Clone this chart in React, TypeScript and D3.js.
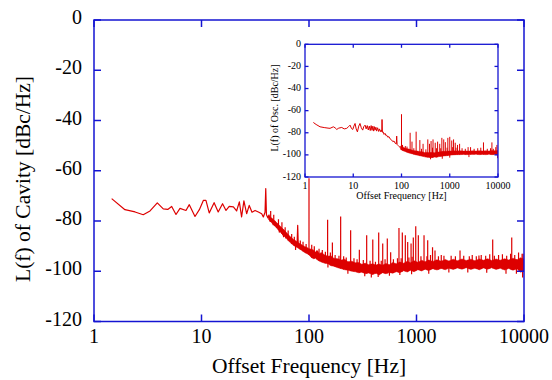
import React from "react";
import * as d3 from "d3";

const xTicks = [1, 10, 100, 1000, 10000];
const yTicks = [0, -20, -40, -60, -80, -100, -120];

// ---- main chart (Cavity) ----
const mainLowF = [1.46, 1.94, 2.41, 2.87, 3.32, 3.88, 4.41, 4.85, 5.28, 5.79, 6.31, 7.17, 7.7, 8.7, 9.55, 10.4, 11.0, 11.8, 13.1, 14.3, 15.7, 16.9, 18.1, 19.8, 21.2, 22.5, 23.6, 24.8, 26.3, 27.8, 29.5, 31.5, 33.8, 36.3, 37.6, 39.0, 39.6, 40.2, 41.5, 42.5, 43.5, 45.0, 46.5, 48.0, 50.0, 51.5, 53.0, 55.0, 57.0, 59.0, 61.0, 63.0, 65.5, 68.0, 70.5, 73.0, 75.5, 77.5, 78.5, 79.5, 82.0, 84.5, 87.0, 90.0, 93.0, 96.0];
const mainLowV = [-71.1, -75.5, -76.4, -77.5, -76.0, -72.8, -75.2, -75.4, -74.2, -77.4, -75.0, -75.8, -73.5, -78.2, -75.5, -71.8, -71.8, -76.8, -72.7, -76.4, -73.1, -75.8, -74.2, -74.4, -76.0, -72.4, -78.4, -72.0, -77.1, -73.8, -76.5, -75.8, -76.4, -77.1, -78.4, -76.5, -67.1, -77.5, -78.8, -77.6, -80.2, -79.0, -81.5, -80.3, -82.5, -81.2, -84.4, -82.8, -85.5, -84.2, -86.8, -85.6, -87.8, -86.8, -88.8, -87.9, -89.6, -88.9, -81.7, -89.8, -90.6, -89.7, -91.4, -90.8, -92.2, -91.5];
const mainFloorF = [42, 46, 50, 55, 60, 66, 72, 78, 85, 90, 96, 100, 105, 110, 115, 120, 125, 130, 140, 150, 160, 170, 185, 200, 215, 230, 250, 270, 290, 310, 335, 360, 390, 420, 450, 480, 520, 560, 600, 650, 700, 760, 820, 880, 950, 1030, 1120, 1200, 1300, 1420, 1550, 1700, 1850, 2000, 2200, 2400, 2650, 2900, 3200, 3500, 3850, 4200, 4600, 5000, 5500, 6000, 6600, 7200, 7900, 8600, 9300, 10000];
const mainFloorHi = [-77.8, -79.2, -80.6, -82.4, -84.0, -86.0, -87.4, -88.4, -89.4, -90.0, -90.5, -91.0, -91.2, -91.5, -92.3, -91.8, -93.0, -92.5, -93.5, -94.0, -93.8, -94.8, -95.0, -95.5, -95.2, -96.2, -96.0, -96.6, -96.5, -97.2, -96.8, -97.4, -97.0, -97.5, -97.1, -97.6, -96.9, -97.4, -96.5, -97.0, -96.3, -96.8, -96.0, -96.6, -95.8, -96.4, -95.6, -96.2, -95.5, -96.1, -95.4, -96.0, -95.3, -95.9, -95.2, -95.8, -95.1, -95.7, -95.2, -95.8, -95.1, -95.6, -95.0, -95.7, -95.1, -95.6, -95.0, -95.5, -94.8, -95.4, -94.6, -95.2];
const mainFloorLo = [-79.4, -81.2, -82.8, -84.8, -86.4, -88.4, -89.8, -90.6, -91.6, -92.4, -93.0, -93.5, -94.5, -95.0, -94.8, -95.5, -96.0, -96.3, -96.8, -97.0, -97.8, -98.0, -98.6, -99.0, -99.4, -99.6, -100.0, -100.2, -100.6, -100.4, -101.0, -100.7, -101.3, -100.8, -101.5, -100.6, -101.0, -100.5, -100.8, -100.2, -100.6, -99.8, -100.3, -99.6, -100.2, -99.4, -99.9, -99.2, -99.7, -99.0, -99.5, -98.9, -99.4, -98.8, -99.3, -98.7, -99.2, -98.6, -99.3, -98.8, -99.4, -98.7, -99.2, -98.6, -99.3, -98.8, -99.5, -98.9, -99.6, -99.0, -100.4, -99.8];
const mainSpikeF = [100, 118, 149, 165, 197, 244, 294, 344, 392, 445, 485, 535, 575, 687, 738, 787, 828, 890, 934, 984, 1040, 1175, 1271, 1410, 1486, 1700, 2540, 3100, 3810, 5115, 7690, 9600];
const mainSpikeV = [-63, -91.7, -79.5, -88.6, -78.2, -83.7, -91.4, -85.7, -87.4, -84.6, -89, -87, -92.4, -82.8, -84.6, -85.7, -88.4, -89, -86.6, -82.1, -85.7, -85.7, -87.7, -90.4, -91.7, -93.5, -91.7, -94, -93.7, -87.4, -86.6, -93];
const mainGrassF = [44, 47, 52, 56, 60, 64, 69, 73, 83, 88, 94, 106, 112, 124, 133, 142, 158, 175, 190, 210, 222, 262, 280, 320, 370, 415, 470, 510, 610, 665, 720, 850, 910, 1100, 1250, 1350, 1600, 1800, 2100, 2300, 2750, 3300, 3600, 4000, 4400, 4800, 5300, 5800, 6300, 6900, 7500, 8200, 8900, 9800];
const mainGrassV = [-76, -77.5, -79.3, -80.5, -82.5, -83.8, -85.2, -86.3, -87.8, -88.3, -89.2, -89.5, -90, -91, -91.5, -92.2, -92.5, -93.5, -93.8, -94, -94.5, -94.8, -95.2, -95.5, -95.8, -96.2, -95.8, -95.2, -95.2, -94.8, -94.8, -94.5, -94.2, -94, -94, -93.5, -94, -93.8, -93.8, -94, -93.8, -93.5, -94, -93.5, -93.8, -93.2, -93.8, -93.5, -93.2, -93.8, -93, -93.5, -92.5, -93];
const mainDipF = [48, 58, 75, 150, 230, 330, 380, 440, 560, 700, 900, 1300, 2000, 3000, 4500, 6800, 8500, 9700];
const mainDipV = [-82, -86.5, -91.5, -98.5, -101, -102, -102.5, -102.3, -101.8, -101.5, -101.2, -101, -100.5, -100.5, -100.6, -101, -101, -102.5];

// ---- inset chart (Osc.) ----
const insetLowF = [1.49, 1.7, 2.05, 2.5, 3.0, 3.3, 3.87, 4.2, 4.55, 5.0, 5.77, 6.5, 7.33, 8.0, 8.59, 9.2, 9.77, 10.3, 10.9, 11.5, 12.2, 13.0, 13.8, 14.7, 15.7, 16.5, 17.6, 18.5, 19.5, 20.5, 21.5, 22.5, 23.5, 24.5, 25.5, 26.5, 27.5, 28.3, 29.5, 30.5, 32, 33.5, 35, 36.5, 38, 39, 39.5, 40.2, 41.6, 43.5, 45.5, 47.5, 49, 52, 55, 58, 62.6, 66, 70, 74, 78, 79.5, 81, 85, 89, 93.3, 95];
const insetLowV = [-70.7, -72.5, -74.6, -75.3, -75.8, -76.0, -74.6, -75.5, -77.0, -75.8, -75.2, -76.5, -76.0, -74.5, -73.1, -76.2, -77.0, -74.0, -71.6, -76.5, -79.2, -74.0, -71.6, -75.5, -77.6, -74.5, -73.1, -76.5, -73.5, -77.5, -74.0, -78.0, -73.5, -77.8, -74.0, -78.5, -74.5, -77.6, -75.0, -78.5, -75.5, -78.8, -76.5, -79.0, -77.5, -79.0, -68.0, -79.5, -79.2, -81.5, -80.5, -82.5, -82.1, -84.0, -83.5, -85.5, -86.6, -88.0, -87.5, -89.5, -90.0, -83.0, -90.5, -91.5, -92.5, -93.2, -93.5];
const insetFloorF = [95, 100, 110, 120, 135, 150, 170, 190, 215, 240, 270, 300, 340, 380, 430, 480, 540, 600, 680, 760, 850, 950, 1070, 1200, 1400, 1600, 1900, 2200, 2600, 3000, 3500, 4100, 4800, 5600, 6500, 7500, 8700, 10000];
const insetFloorHi = [-92.0, -92.5, -93.0, -94.0, -94.5, -95.0, -95.8, -96.2, -96.5, -97.0, -97.2, -97.8, -97.6, -98.0, -97.7, -98.0, -97.5, -97.3, -97.0, -96.8, -96.8, -96.5, -96.5, -96.3, -96.5, -96.3, -96.5, -96.4, -96.5, -96.3, -96.5, -96.2, -96.4, -96.2, -96.4, -96.0, -96.3, -96.0];
const insetFloorLo = [-95.0, -95.5, -96.5, -97.0, -98.0, -98.5, -99.2, -99.8, -100.3, -100.8, -101.2, -101.8, -102.2, -102.3, -102.5, -102.0, -102.2, -101.5, -101.3, -101.0, -100.8, -100.5, -100.2, -100.0, -99.8, -99.8, -99.6, -99.8, -99.6, -99.7, -99.5, -99.8, -99.6, -99.8, -99.5, -99.8, -99.6, -100.0];
const insetSpikeF = [100, 120, 151, 165, 201, 240, 280, 351, 380, 410, 450, 500, 560, 620, 686, 750, 810, 913, 1000, 1100, 1200, 1300, 1450, 1600, 2700, 5000, 7480, 9500];
const insetSpikeV = [-63.2, -92, -80, -88, -79, -86.6, -90, -86, -90, -87.5, -86, -89, -88, -90, -84.6, -86, -88.5, -84.6, -83.7, -87, -86, -89, -91, -90, -93, -88.7, -88.7, -91];
const insetGrassF = [105, 130, 180, 260, 320, 440, 530, 650, 880, 1150, 1350, 1800, 2100, 2400, 3200, 3800, 4400, 6000, 7000, 8000, 9000];
const insetGrassV = [-91, -92.5, -94, -94.5, -95, -93.5, -94, -94, -93.5, -93, -93.5, -94, -94.5, -93, -94.5, -94, -93.5, -94.5, -94, -94.5, -93];
const insetDipF = [400, 700, 1000, 2500, 9800];
const insetDipV = [-104, -103.5, -102.5, -102, -103];

const RED = "#dd0000";
const BLUE = "#1414d2";
const FONT = "'Liberation Serif', 'Times New Roman', serif";

type PanelProps = {
  id: string;
  L: number; R: number; T: number; B: number;
  fs: number; titleFs: number; tick: number; axisW: number; lineW: number;
  yLabelX: number; yLabelDy: number; xLabelY: number; xTitleY: number;
  yTitleX: number; yTitleY: number;
  xTitle: string; yTitle: string;
  lowF: number[]; lowV: number[];
  floorF: number[]; floorHi: number[]; floorLo: number[];
  spikeF: number[]; spikeV: number[];
  grassF: number[]; grassV: number[];
  dipF: number[]; dipV: number[];
  bg?: boolean;
};

function Panel(p: PanelProps) {
  const x = d3.scaleLog().domain([1, 10000]).range([p.L, p.R]);
  const y = d3.scaleLinear().domain([-120, 0]).range([p.B, p.T]);
  const idx = (a: number[]) => a.map((_, i) => i);
  const lowPath = d3.line<number>().x(i => x(p.lowF[i])).y(i => y(p.lowV[i]))(idx(p.lowF)) || "";
  const bandPath = d3.area<number>()
    .x(i => x(p.floorF[i]))
    .y0(i => y(p.floorLo[i]))
    .y1(i => y(p.floorHi[i]))(idx(p.floorF)) || "";
  const loAt = d3.scaleLog().domain(p.floorF).range(p.floorLo).clamp(true);
  const hiAt = d3.scaleLog().domain(p.floorF).range(p.floorHi).clamp(true);
  const vlines = (fs: number[], vs: number[], base: (f: number) => number) =>
    fs.map((f, i) => `M${x(f)},${y(base(f))}L${x(f)},${y(vs[i])}`).join("");
  const spikePath = vlines(p.spikeF, p.spikeV, f => loAt(f));
  const grassPath = vlines(p.grassF, p.grassV, f => loAt(f));
  const dipPath = vlines(p.dipF, p.dipV, f => hiAt(f));
  const clipId = `clip-${p.id}`;
  return (
    <g>
      {p.bg && <rect x={p.L} y={p.T} width={p.R - p.L} height={p.B - p.T} fill="#fff" />}
      <defs>
        <clipPath id={clipId}>
          <rect x={p.L} y={p.T - 200} width={p.R - p.L} height={p.B - p.T + 200} />
        </clipPath>
      </defs>
      <g clipPath={`url(#${clipId})`}>
        <path d={bandPath} fill={RED} stroke={RED} strokeWidth={p.lineW * 0.4} />
        <path d={grassPath} fill="none" stroke={RED} strokeWidth={p.lineW} />
        <path d={dipPath} fill="none" stroke={RED} strokeWidth={p.lineW} />
        <path d={spikePath} fill="none" stroke={RED} strokeWidth={p.lineW} />
        <path d={lowPath} fill="none" stroke={RED} strokeWidth={p.lineW} strokeLinejoin="round" />
      </g>
      <rect x={p.L} y={p.T} width={p.R - p.L} height={p.B - p.T} fill="none" stroke={BLUE} strokeWidth={p.axisW} />
      {yTicks.map(t => (
        <g key={`y${t}`}>
          <line x1={p.L} x2={p.L + p.tick} y1={y(t)} y2={y(t)} stroke={BLUE} strokeWidth={p.axisW} />
          <line x1={p.R} x2={p.R - p.tick} y1={y(t)} y2={y(t)} stroke={BLUE} strokeWidth={p.axisW} />
          <text x={p.yLabelX} y={y(t) + p.yLabelDy} textAnchor="end" fontSize={p.fs} fontFamily={FONT} fill="#000">{t}</text>
        </g>
      ))}
      {xTicks.map(t => (
        <g key={`x${t}`}>
          <line x1={x(t)} x2={x(t)} y1={p.B} y2={p.B - p.tick} stroke={BLUE} strokeWidth={p.axisW} />
          <line x1={x(t)} x2={x(t)} y1={p.T} y2={p.T + p.tick} stroke={BLUE} strokeWidth={p.axisW} />
          <text x={x(t)} y={p.xLabelY} textAnchor="middle" fontSize={p.fs} fontFamily={FONT} fill="#000">{t}</text>
        </g>
      ))}
      <text x={(p.L + p.R) / 2} y={p.xTitleY} textAnchor="middle" fontSize={p.titleFs} fontFamily={FONT} fill="#000">{p.xTitle}</text>
      <text transform={`translate(${p.yTitleX},${p.yTitleY}) rotate(-90)`} textAnchor="middle" fontSize={p.titleFs} fontFamily={FONT} fill="#000">{p.yTitle}</text>
    </g>
  );
}

export default function App() {
  return (
    <svg width={552} height={380} style={{ position: "absolute", left: 0, top: 0, background: "#fff" }}>
      <Panel
        id="main" L={94} R={524} T={20} B={321.5}
        fs={20} titleFs={21.5} tick={7} axisW={1.5} lineW={1.2}
        yLabelX={82} yLabelDy={4} xLabelY={343} xTitleY={373}
        yTitleX={30} yTitleY={179}
        xTitle="Offset Frequency [Hz]" yTitle="L(f) of Cavity [dBc/Hz]"
        lowF={mainLowF} lowV={mainLowV}
        floorF={mainFloorF} floorHi={mainFloorHi} floorLo={mainFloorLo}
        spikeF={mainSpikeF} spikeV={mainSpikeV}
        grassF={mainGrassF} grassV={mainGrassV}
        dipF={mainDipF} dipV={mainDipV}
      />
      <Panel
        id="inset" L={305} R={498} T={44.3} B={177}
        fs={10} titleFs={10} tick={3.5} axisW={1.3} lineW={1}
        yLabelX={301} yLabelDy={2.5} xLabelY={188.5} xTitleY={199}
        yTitleX={277.5} yTitleY={108}
        xTitle="Offset Frequency [Hz]" yTitle="L(f) of Osc. [dBc/Hz]"
        lowF={insetLowF} lowV={insetLowV}
        floorF={insetFloorF} floorHi={insetFloorHi} floorLo={insetFloorLo}
        spikeF={insetSpikeF} spikeV={insetSpikeV}
        grassF={insetGrassF} grassV={insetGrassV}
        dipF={insetDipF} dipV={insetDipV}
        bg
      />
    </svg>
  );
}
